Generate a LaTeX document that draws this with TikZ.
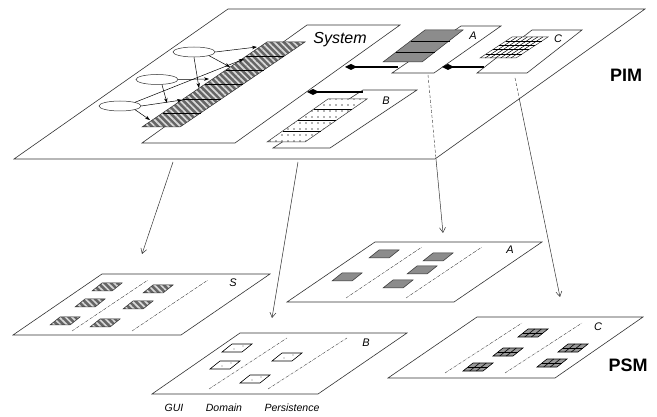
\documentclass[tikz,border=0pt]{standalone}
\usepackage{fontspec}
\setmainfont{Liberation Sans}
\usetikzlibrary{arrows.meta,patterns.meta,shapes.geometric}

\tikzset{
  plane/.style={draw=black!80, fill=white, line width=0.6pt},
  lane/.style={densely dashdotted, line width=0.4pt, draw=black!75},
  flow/.style={draw=black!80, line width=0.5pt, -{Straight Barb[length=5pt,width=6pt]}},
  dep/.style={draw=black, line width=0.5pt, -{Stealth[length=5pt,width=3.5pt]}},
  owns/.style={line width=1.6pt, {Diamond[length=12pt,width=6pt]}-},
  usecase/.style={ellipse, draw=black!80, fill=white, line width=0.5pt, minimum width=42pt, minimum height=10pt, inner sep=0pt},
  striped/.style={draw=black!80, line width=0.5pt, preaction={fill=black!60}, pattern={Lines[angle=-45,distance=4.5pt,line width=1.7pt]}, pattern color=white!85!black},
  dotted box/.style={draw=black!80, line width=0.5pt, preaction={fill=white}, pattern={Dots[distance=6pt,radius=0.8pt]}, pattern color=black!60},
  tag/.style={font=\itshape\fontsize{11}{11}\selectfont, inner sep=0.75pt},
  level/.style={font=\bfseries\fontsize{18}{18}\selectfont, inner sep=0.75pt},
}

\begin{document}
\begin{tikzpicture}[x=1pt,y=1pt,yscale=-1,xscale=1]
\useasboundingbox (0,0) rectangle (657,417);
% PIM
\draw[plane] (14,159) -- (435,159) -- (645,9) -- (228,9) -- cycle;
\draw[plane] (142,143) -- (235,143) -- (400,25) -- (307,25) -- cycle;
\draw[striped] (142,127) -- (180,127) -- (305,42) -- (267,42) -- cycle;
\foreach \yy in {56,70,84,99,113}
  \draw[line width=0.5pt] ({142+(127-\yy)*1.4706},\yy) -- ++(38,0);
\node[usecase] (uc1) at (194,52) {};
\node[usecase] (uc2) at (157,79.5) {};
\node[usecase] (uc3) at (120,106) {};
\coordinate (t1) at (257,47);
\coordinate (t2) at (230,67);
\coordinate (t3) at (199,88);
\coordinate (t4) at (209,79);
\coordinate (t5) at (167,103);
\coordinate (t6) at (244,59);
\coordinate (t7) at (182,100);
\coordinate (t8) at (150,120);
\draw[dep] (uc1.east) -- (t1);
\draw[dep] (uc1.south east) -- (t2);
\draw[dep] (uc1.south) -- (t3);
\draw[dep] (uc2.east) -- (t4);
\draw[dep] (uc2.south) ++(5,0) -- (t5);
\draw[dep] (uc3.north east) -- (t6);
\draw[dep] (uc3.east) -- (t7);
\draw[dep] (uc3.south east) -- (t8);
% B
\draw[plane] (273,148) -- (330,148) -- (417,90) -- (363,90) -- cycle;
\draw[dotted box] (267,142) -- (305,142) -- (367,99) -- (328,99) -- cycle;
\foreach \yy in {109,120,131}
  \draw[line width=0.5pt] ({267+(142-\yy)*1.4186},\yy) -- ++(38,0);
% A
\draw[plane] (392,73) -- (434,73) -- (501,26) -- (461,26) -- cycle;
\draw[draw=black!80, fill=black!45, line width=0.5pt] (383,62) -- (422,62) -- (463,30) -- (425,30) -- cycle;
\foreach \yy in {41,52}
  \draw[line width=0.5pt] ({383+(62-\yy)*1.3125},\yy) -- ++(39,0);
% C
\draw[plane] (477,73) -- (527,73) -- (582,30) -- (532,30) -- cycle;
\draw[draw=black!80, fill=white, line width=0.5pt] (480,58) -- (516,58) -- (548,37) -- (512,37) -- cycle;
\foreach \i in {1,...,4}
  \draw[line width=0.5pt] ({480+\i*6.4},{58-\i*4.2}) -- ++(36,0);
\foreach \i in {1,...,6}
  \draw[line width=0.5pt] ({480+\i*5.14},58) -- ++(32,-21);
% composition
\coordinate (sysA) at (345,67);
\coordinate (aLeft) at (398,67);
\coordinate (aRight) at (442,67);
\coordinate (cLeft) at (484,67);
\coordinate (sysB) at (307,92);
\coordinate (bLeft) at (363,92);
\draw[owns] (sysA) -- (aLeft);
\draw[owns] (aRight) -- (cLeft);
\draw[owns] (sysB) -- (bLeft);
%Text
\node[font=\itshape\fontsize{16}{16}\selectfont, inner sep=0.75pt] (sysname) at (340,40) {System};
\node[tag] (lblpA) at (473,36) {A};
\node[tag] (lblpB) at (386,101) {B};
\node[tag] (lblpC) at (558,39) {C};
\node[level] (pim) at (626,75) {PIM};

% PSM S
\begin{scope}[shift={(13,335)}]
\draw[plane] (0,0) -- (168,0) -- (257,-61) -- (89,-61) -- cycle;
\draw[lane] (59,-4) -- (135,-55);
\draw[lane] (119,-4) -- (195,-55);
\foreach \p in {(94,-48),(145,-46),(77,-32),(125,-30),(52,-14),(92,-12)}
  \draw[striped] \p ++(-15,4) -- ++(20,0) -- ++(10,-8) -- ++(-20,0) -- cycle;
\node[tag] (lblS) at (220,-52) {S};
\end{scope}
% PSM A
\begin{scope}[shift={(287,302)}]
\draw[plane] (0,0) -- (167,0) -- (255,-60) -- (88,-60) -- cycle;
\draw[lane] (59,-4) -- (135,-55);
\draw[lane] (119,-4) -- (195,-55);
\foreach \p in {(97,-48),(151,-45),(135,-32),(60,-25),(111,-18)}
  \draw[draw=black!80, fill=black!45, line width=0.5pt] \p ++(-15,4) -- ++(20,0) -- ++(10,-8) -- ++(-20,0) -- cycle;
\node[tag] (lblA) at (223,-52) {A};
\end{scope}
% PSM B
\begin{scope}[shift={(152,394)}]
\draw[plane] (0,0) -- (166,0) -- (255,-61) -- (88,-61) -- cycle;
\draw[lane] (57,-5) -- (135,-56);
\draw[lane] (116,-5) -- (195,-56);
\foreach \p in {(85,-46),(73,-29),(135,-37),(103,-15)} {
  \draw[draw=black, fill=white, line width=0.6pt] \p ++(-15,4) -- ++(20,0) -- ++(10,-8) -- ++(-20,0) -- cycle;
  \fill[black!55] \p ++(-3,1) circle (0.7);
  \fill[black!55] \p ++(6,-2) circle (0.7);
}
\node[tag] (lblB) at (214,-51) {B};
\end{scope}
% PSM C
\begin{scope}[shift={(388,378)}]
\draw[plane] (0,0) -- (167,0) -- (255,-61) -- (89,-61) -- cycle;
\draw[lane] (57,-5) -- (134,-55);
\draw[lane] (117,-5) -- (194,-55);
\foreach \p in {(145,-45),(120,-26),(185,-30),(90,-11),(164,-15)} {
  \draw[draw=black, fill=black!40, line width=0.6pt] \p ++(-15,4) -- ++(20,0) -- ++(10,-8) -- ++(-20,0) -- cycle;
  \draw[line width=0.6pt] \p ++(-10,0) -- ++(20,0);
  \foreach \k in {1,2}
    \draw[line width=0.6pt] \p ++({-15+\k*6.67},4) -- ++(10,-8);
}
\node[tag] (lblC) at (210,-51) {C};
\end{scope}
\node[level] (psm) at (628,365) {PSM};
\node[tag, font=\itshape\fontsize{10.5}{10.5}\selectfont] (gui) at (174,408) {GUI};
\node[tag, font=\itshape\fontsize{10.5}{10.5}\selectfont] (domain) at (224,408) {Domain};
\node[tag, font=\itshape\fontsize{10.5}{10.5}\selectfont] (persist) at (292,408) {Persistence};

% transformations
\coordinate (fromS) at (173,162);
\coordinate (toS) at (142,254);
\coordinate (fromB) at (298,162);
\coordinate (toB) at (272,318);
\coordinate (inA) at (428,75);
\coordinate (edgeA) at (436,159);
\coordinate (toA) at (443,233);
\coordinate (inC) at (515,78);
\coordinate (edgeC) at (519.3,98.8);
\coordinate (toC) at (560,297);
\draw[flow] (fromS) -- (toS);
\draw[flow] (fromB) -- (toB);
\draw[densely dashed, line width=0.4pt, black!80] (inA) -- (edgeA);
\draw[flow] (edgeA) -- (toA);
\draw[densely dashed, line width=0.4pt, black!80] (inC) -- (edgeC);
\draw[flow] (edgeC) -- (toC);
\end{tikzpicture}
\end{document}
